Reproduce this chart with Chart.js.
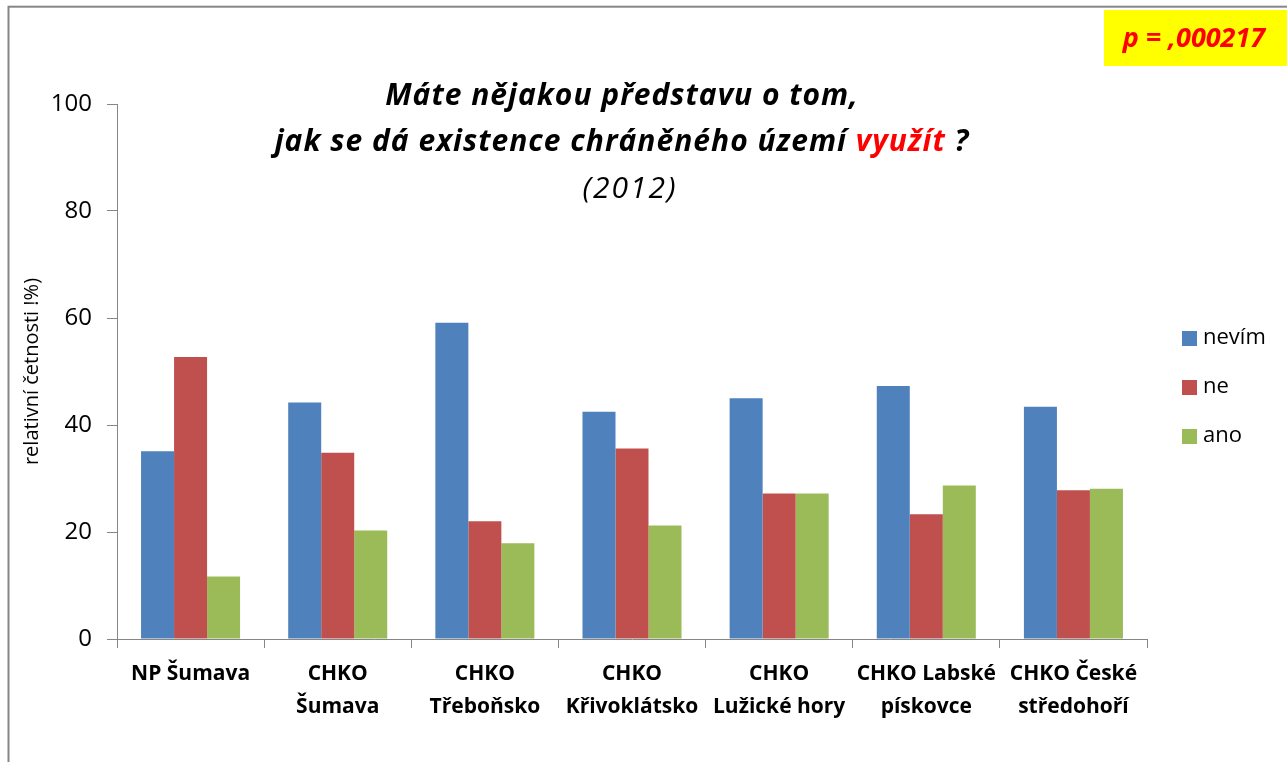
<!DOCTYPE html>
<html>
<head>
<meta charset="utf-8">
<script src="https://cdn.jsdelivr.net/npm/chart.js@4/dist/chart.umd.min.js"></script>
<style>
  body { margin: 0; background: #fff; }
  canvas { display: block; }
</style>
</head>
<body>
<canvas id="graph" width="1287" height="762"></canvas>
<script>
// data
const categories = [
    'NP Šumava',
    ['CHKO', 'Šumava'],
    ['CHKO', 'Třeboňsko'],
    ['CHKO', 'Křivoklátsko'],
    ['CHKO', 'Lužické hory'],
    ['CHKO Labské', 'pískovce'],
    ['CHKO České', 'středohoří']
];
const seriesNames = ['nevím', 'ne', 'ano'];
const nevim = [35.1, 44.2, 59.1, 42.5, 45.0, 47.3, 43.4];
const ne = [52.7, 34.8, 22.0, 35.6, 27.2, 23.3, 27.8];
const ano = [11.7, 20.3, 17.9, 21.2, 27.2, 28.7, 28.1];
const yTicks = [0, 20, 40, 60, 80, 100];
const pValue = 'p = ,000217';

const colors = ['#4F81BD', '#C0504D', '#9BBB59'];
const axisColor = '#868686';
const fontFam = '"Open Sans", Lato, sans-serif';

const canvas = document.querySelector('#graph');
const ctx = canvas.getContext('2d');

// frame, p-value box, title and legend are drawn by hand
const decorations = {
    id: 'decorations',
    beforeDraw(chart){
        const c = chart.ctx;
        c.save();
        c.fillStyle = '#fff';
        c.fillRect(0, 0, chart.width, chart.height);
        c.strokeStyle = axisColor;
        c.lineWidth = 2;
        c.strokeRect(8.5, 6.7, chart.width + 20, chart.height + 20);
        c.restore();
    },
    afterDraw(chart){
        const c = chart.ctx;
        c.save();

        // p value
        c.fillStyle = '#FFFF00';
        c.fillRect(1104, 10, 190, 56);
        c.fillStyle = '#FF0000';
        c.font = `italic bold 27px ${fontFam}`;
        c.textAlign = 'center';
        c.textBaseline = 'middle';
        c.fillText(pValue, 1194, 39);

        // title
        const cx = 622;
        c.letterSpacing = '1px';
        c.textBaseline = 'alphabetic';
        c.fillStyle = '#000';
        c.font = `italic bold 30px ${fontFam}`;
        c.fillText('Máte nějakou představu o tom,', cx, 105);

        const parts = [
            ['jak se dá existence chráněného území ', '#000'],
            ['využít', '#FF0000'],
            [' ?', '#000']
        ];
        c.textAlign = 'left';
        let total = 0;
        parts.forEach(p => total += c.measureText(p[0]).width);
        let x = cx - total / 2;
        parts.forEach(p => {
            c.fillStyle = p[1];
            c.fillText(p[0], x, 151);
            x += c.measureText(p[0]).width;
        });

        c.textAlign = 'center';
        c.fillStyle = '#000';
        c.letterSpacing = '2px';
        c.font = `italic 30px ${fontFam}`;
        c.fillText('(2012)', 630, 198);
        c.letterSpacing = '0px';

        // legend
        c.font = `22px ${fontFam}`;
        c.textAlign = 'left';
        c.textBaseline = 'middle';
        chart.data.datasets.forEach((ds, i) => {
            const y = 338 + i * 49;
            c.fillStyle = ds.backgroundColor;
            c.fillRect(1182, y - 7, 15, 15);
            c.fillStyle = '#000';
            c.fillText(ds.label, 1203, y);
        });
        c.restore();
    }
};

const chart = new Chart(ctx, {
    type: 'bar',
    data: {
        labels: categories,
        datasets: [nevim, ne, ano].map((vals, i) => ({
            label: seriesNames[i],
            data: vals,
            backgroundColor: colors[i],
            borderWidth: 0,
            categoryPercentage: 0.673,
            barPercentage: 1
        }))
    },
    options: {
        responsive: false,
        animation: false,
        devicePixelRatio: 1,
        layout: { padding: { left: 0, top: 104, right: 140, bottom: 0 } },
        plugins: {
            legend: { display: false },
            tooltip: { enabled: false },
            title: { display: false }
        },
        scales: {
            x: {
                grid: { drawOnChartArea: false, color: axisColor, tickLength: 9, offset: true },
                border: { color: axisColor },
                ticks: {
                    color: '#000',
                    maxRotation: 0,
                    autoSkip: false,
                    padding: 10,
                    font: { family: fontFam, size: 21, weight: 'bold', lineHeight: 1.57 }
                },
                afterFit: s => { s.height = 123; }
            },
            y: {
                min: 0,
                max: 100,
                afterBuildTicks: s => { s.ticks = yTicks.map(v => ({ value: v })); },
                grid: { drawOnChartArea: false, color: axisColor, tickLength: 10 },
                border: { color: axisColor },
                ticks: {
                    color: '#000',
                    padding: 15,
                    font: { family: fontFam, size: 24 }
                },
                title: {
                    display: true,
                    text: 'relativní četnosti !%)',
                    color: '#000',
                    padding: { top: 20, bottom: 0 },
                    font: { family: fontFam, size: 20 }
                },
                afterFit: s => { s.width = 117; }
            }
        }
    },
    plugins: [decorations]
});
</script>
</body>
</html>
